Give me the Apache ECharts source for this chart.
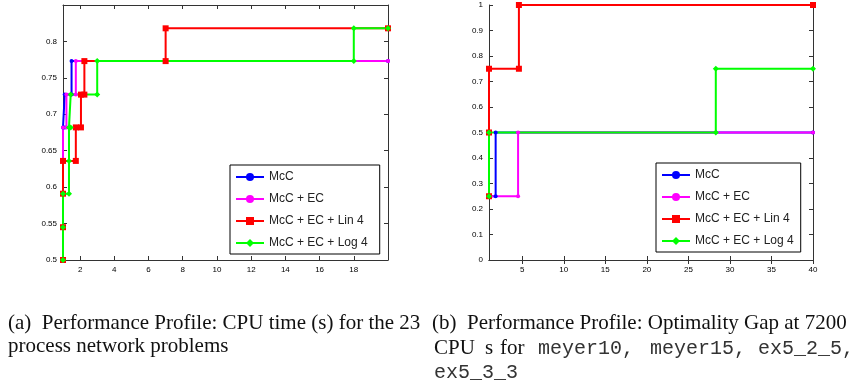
<!DOCTYPE html>
<html>
<head>
<meta charset="utf-8">
<script src="https://cdn.jsdelivr.net/npm/echarts@6/dist/echarts.min.js"></script>
<style>
  html, body { margin: 0; padding: 0; background: #fff; }
  #main { width: 851px; height: 387px; }
</style>
</head>
<body>
<div id="main"></div>
<script>
// legend labels
var names = ['McC', 'McC + EC', 'McC + EC + Lin 4', 'McC + EC + Log 4'];
var colors = ['#0000ff', '#ff00ff', '#ff0000', '#00ff00'];

// (a) CPU time profile, tick values
var tickAx = [2, 4, 6, 8, 10, 12, 14, 16, 18];
var tickAy = [0.5, 0.55, 0.6, 0.65, 0.7, 0.75, 0.8];
// (a) step corners [tau, rho]
var profA_mcc = [[1, 0.5], [1, 0.545], [1, 0.591], [1, 0.636], [1, 0.682], [1.1, 0.682], [1.1, 0.727], [1.5, 0.727], [1.5, 0.773], [20, 0.773]];
var profA_ec = [[1, 0.5], [1, 0.545], [1, 0.591], [1, 0.636], [1, 0.682], [1.2, 0.682], [1.2, 0.727], [1.75, 0.727], [1.75, 0.773], [20, 0.773]];
var profA_lin = [[1, 0.5], [1, 0.545], [1, 0.591], [1, 0.636], [1.75, 0.636], [1.75, 0.682], [2.05, 0.682], [2.05, 0.727], [2.25, 0.727], [2.25, 0.773], [7, 0.773], [7, 0.818], [20, 0.818]];
var profA_log = [[1, 0.5], [1, 0.545], [1, 0.591], [1.35, 0.591], [1.35, 0.636], [1.35, 0.682], [1.45, 0.682], [1.45, 0.727], [3, 0.727], [3, 0.773], [18, 0.773], [18, 0.818], [20, 0.818]];

// (b) optimality gap profile, tick values
var tickBx = [5, 10, 15, 20, 25, 30, 35, 40];
var tickBy = [0, 0.1, 0.2, 0.3, 0.4, 0.5, 0.6, 0.7, 0.8, 0.9, 1];
var profB_mcc = [[1, 0.25], [1.8, 0.25], [1.8, 0.5], [40, 0.5]];
var profB_ec = [[1, 0.25], [4.5, 0.25], [4.5, 0.5], [40, 0.5]];
var profB_lin = [[1, 0.25], [1, 0.5], [1, 0.75], [4.6, 0.75], [4.6, 1], [40, 1]];
var profB_log = [[1, 0.25], [1, 0.5], [28.3, 0.5], [28.3, 0.75], [40, 0.75]];

var myChart = echarts.init(document.getElementById('main'));

var symA = ['circle', 'circle', 'rect', 'diamond'];
var sizeA = [4, 4, 6, 6];
var symB = ['circle', 'circle', 'rect', 'diamond'];
var sizeB = [4, 4, 6, 6];

function mkAxes(min, max, ticksX, minY, maxY, ticksY, gi) {
    var lineSt = { lineStyle: { color: '#333', width: 1 } };
    var lbl = { fontSize: 8, color: '#000', fontFamily: 'Liberation Sans' };
    var xs = [
        { type: 'value', gridIndex: gi, min: min, max: max, position: 'bottom',
          axisLine: lineSt, splitLine: { show: false },
          axisTick: { inside: true, length: 4, customValues: ticksX, lineStyle: { color: '#333' } },
          axisLabel: Object.assign({ margin: 6, customValues: ticksX }, lbl) },
        { type: 'value', gridIndex: gi, min: min, max: max, position: 'top',
          axisLine: lineSt, splitLine: { show: false },
          axisTick: { inside: true, length: 4, customValues: ticksX, lineStyle: { color: '#333' } },
          axisLabel: { show: false } }
    ];
    var ys = [
        { type: 'value', gridIndex: gi, min: minY, max: maxY, position: 'left',
          axisLine: lineSt, splitLine: { show: false },
          axisTick: { inside: true, length: 4, customValues: ticksY, lineStyle: { color: '#333' } },
          axisLabel: Object.assign({ margin: 6, customValues: ticksY }, lbl) },
        { type: 'value', gridIndex: gi, min: minY, max: maxY, position: 'right',
          axisLine: lineSt, splitLine: { show: false },
          axisTick: { inside: true, length: 4, customValues: ticksY, lineStyle: { color: '#333' } },
          axisLabel: { show: false } }
    ];
    return { x: xs, y: ys };
}

var axA = mkAxes(1, 20, tickAx, 0.5, 0.85, tickAy, 0);
var axB = mkAxes(1, 40, tickBx, 0, 1, tickBy, 1);

var dataA = [profA_mcc, profA_ec, profA_lin, profA_log];
var dataB = [profB_mcc, profB_ec, profB_lin, profB_log];
var series = [];
for (var i = 0; i < 4; i++) {
    series.push({
        name: 'a|' + names[i], type: 'line', xAxisIndex: 0, yAxisIndex: 0,
        data: dataA[i], symbol: symA[i], symbolSize: sizeA[i], showAllSymbol: true,
        lineStyle: { color: colors[i], width: 2 }, itemStyle: { color: colors[i] }
    });
}
for (var j = 0; j < 4; j++) {
    series.push({
        name: 'b|' + names[j], type: 'line', xAxisIndex: 2, yAxisIndex: 2,
        data: dataB[j], symbol: symB[j], symbolSize: sizeB[j], showAllSymbol: true,
        lineStyle: { color: colors[j], width: 2 }, itemStyle: { color: colors[j] }
    });
}

function mkLegend(prefix, left, top, padR) {
    return {
        orient: 'vertical', left: left, top: top,
        data: names.map(function (n) { return prefix + n; }),
        formatter: function (n) { return n.slice(2); },
        selectedMode: false,
        backgroundColor: '#fff', borderColor: '#000', borderWidth: 1,
        padding: [6, padR, 5, 5], itemWidth: 28, itemHeight: 10, itemGap: 10,
        textStyle: { fontSize: 12, color: '#222', fontFamily: 'Liberation Sans' }
    };
}

var serif = 'Liberation Serif';
var mono = 'Liberation Mono';
function cap(text, x, y, font, size) {
    return { type: 'text', left: x, top: y, style: { text: text, fontFamily: font, fontSize: size, fill: font === mono ? '#333' : '#111' } };
}

var option = {
    animation: false,
    grid: [
        { left: 63, top: 5, width: 325, height: 255 },
        { left: 489, top: 5, width: 324, height: 255 }
    ],
    xAxis: axA.x.concat(axB.x),
    yAxis: axA.y.concat(axB.y),
    legend: [mkLegend('a|', 230, 165, 12), mkLegend('b|', 656, 163, 7)],
    series: series,
    graphic: [
        cap('(a)  Performance Profile: CPU time (s) for the 23', 8, 313, serif, 21),
        cap('process network problems', 8, 336, serif, 21),
        cap('(b)  Performance Profile: Optimality Gap at 7200', 432, 313, serif, 21),
        cap('CPU', 434, 338, serif, 21),
        cap('s', 485, 338, serif, 21),
        cap('for', 500, 338, serif, 21),
        cap('meyer10,', 538, 339, mono, 20),
        cap('meyer15,', 650, 339, mono, 20),
        cap('ex5_2_5,', 758, 339, mono, 20),
        cap('ex5_3_3', 434, 363, mono, 20)
    ]
};
myChart.setOption(option);
</script>
</body>
</html>
